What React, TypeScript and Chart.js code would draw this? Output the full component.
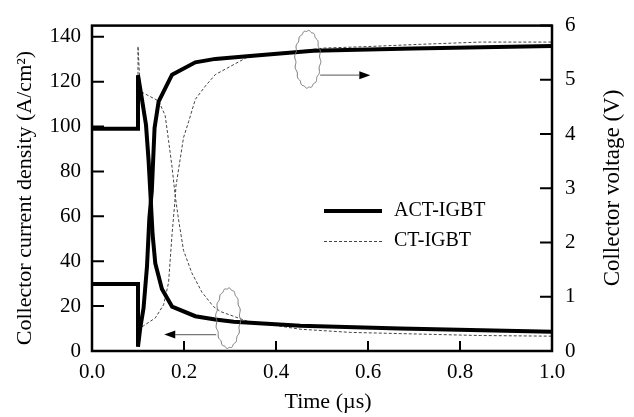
import React, { useEffect, useRef } from 'react';
import { Chart, registerables } from 'chart.js';

Chart.register(...registerables);

const FONT = '"Liberation Serif", "Times New Roman", Times, serif';

// Time axis ticks
const timeTicks = [0, 0.2, 0.4, 0.6, 0.8, 1.0];

// ACT-IGBT collector current density (A/cm2)
const actCurrentT = [0, 0.1, 0.1, 0.1087, 0.1174, 0.123, 0.127, 0.1317, 0.1376, 0.152, 0.174, 0.2246, 0.268, 0.308, 0.453, 0.67, 1.0];
const actCurrent = [99, 99, 122.9, 112, 100.7, 85, 70, 52, 39, 27.6, 19.8, 15.5, 14, 13, 11.2, 10, 8.6];

// ACT-IGBT collector voltage (V)
const actVoltageT = [0, 0.1, 0.1, 0.105, 0.112, 0.1196, 0.1246, 0.13, 0.136, 0.1448, 0.174, 0.2246, 0.268, 0.337, 0.481, 0.698, 1.0];
const actVoltage = [1.235, 1.235, 0.079, 0.431, 0.787, 1.566, 2.44, 2.95, 4.114, 4.599, 5.096, 5.323, 5.386, 5.435, 5.535, 5.576, 5.626];

// CT-IGBT collector current density (A/cm2)
const ctCurrentT = [0, 0.1, 0.1, 0.105, 0.1448, 0.159, 0.1665, 0.174, 0.181, 0.1876, 0.199, 0.217, 0.239, 0.264, 0.279, 0.337, 0.453, 0.5615, 0.699, 0.844, 1.0];
const ctCurrent = [99, 99, 135.8, 115.7, 111.4, 105, 93.7, 82, 69, 59.3, 44.8, 34.8, 26.2, 19.8, 17.6, 13.3, 9.7, 8.3, 7.6, 6.9, 6.6];

// CT-IGBT collector voltage (V)
const ctVoltageT = [0, 0.1, 0.1, 0.112, 0.1376, 0.1557, 0.1665, 0.174, 0.1796, 0.1826, 0.199, 0.21, 0.2246, 0.2463, 0.268, 0.337, 0.503, 0.598, 0.714, 0.844, 1.0];
const ctVoltage = [1.235, 1.235, 0.414, 0.464, 0.609, 0.853, 1.264, 2.154, 2.693, 3.045, 3.936, 4.226, 4.64, 4.884, 5.096, 5.415, 5.585, 5.613, 5.655, 5.696, 5.696];

// Annotation anchors (data coordinates: time, current density)
const upperEllipse = { t: 0.469, y: 130, rt: 0.0272, ry: 12.7 };
const upperArrow = { t0: 0.496, t1: 0.605, y: 122.9 };
const lowerEllipse = { t: 0.296, y: 14.6, rt: 0.026, ry: 13.3 };
const lowerArrow = { t0: 0.27, t1: 0.157, y: 7.3 };

const legendItems = ['ACT-IGBT', 'CT-IGBT'];

const zip = (ts: number[], vs: number[]) => ts.map((t, i) => ({ x: t, y: vs[i] }));

function drawWavyEllipse(ctx: CanvasRenderingContext2D, cx: number, cy: number, rx: number, ry: number) {
  ctx.beginPath();
  const n = 160;
  for (let i = 0; i <= n; i++) {
    const a = (i / n) * Math.PI * 2;
    const w = 1 + 0.05 * Math.sin(a * 16);
    const x = cx + rx * Math.cos(a) * w;
    const y = cy + ry * Math.sin(a) * (1 + 0.02 * Math.sin(a * 16));
    if (i === 0) ctx.moveTo(x, y);
    else ctx.lineTo(x, y);
  }
  ctx.closePath();
  ctx.stroke();
}

function drawArrow(ctx: CanvasRenderingContext2D, x0: number, x1: number, y: number) {
  const dir = x1 > x0 ? 1 : -1;
  const headLen = 11;
  ctx.strokeStyle = '#777';
  ctx.lineWidth = 1.2;
  ctx.beginPath();
  ctx.moveTo(x0, y);
  ctx.lineTo(x1 - dir * headLen, y);
  ctx.stroke();
  ctx.fillStyle = '#000';
  ctx.beginPath();
  ctx.moveTo(x1, y);
  ctx.lineTo(x1 - dir * headLen, y - 4);
  ctx.lineTo(x1 - dir * headLen, y + 4);
  ctx.closePath();
  ctx.fill();
}

const decorPlugin = {
  id: 'decor',
  afterDatasetsDraw(chart: any) {
    const { ctx, chartArea, scales } = chart;
    const { left, right, top, bottom } = chartArea;
    const sx = scales.x, sy = scales.y, sy2 = scales.y2;
    ctx.save();
    // frame
    ctx.strokeStyle = '#000';
    ctx.lineWidth = 2.5;
    ctx.strokeRect(left, top, right - left, bottom - top);
    // inward ticks
    ctx.lineWidth = 2;
    ctx.beginPath();
    sy.ticks.forEach((t: any) => {
      const p = sy.getPixelForValue(t.value);
      ctx.moveTo(left, p);
      ctx.lineTo(left + 12, p);
    });
    sy2.ticks.forEach((t: any) => {
      const p = sy2.getPixelForValue(t.value);
      ctx.moveTo(right, p);
      ctx.lineTo(right - 12, p);
    });
    sx.ticks.forEach((t: any) => {
      const p = sx.getPixelForValue(t.value);
      ctx.moveTo(p, bottom);
      ctx.lineTo(p, bottom - 10);
    });
    ctx.stroke();

    // ellipses and arrows
    ctx.strokeStyle = '#777';
    ctx.lineWidth = 1;
    const e1x = sx.getPixelForValue(upperEllipse.t);
    const e1y = sy.getPixelForValue(upperEllipse.y);
    const e1rx = sx.getPixelForValue(upperEllipse.t + upperEllipse.rt) - e1x;
    const e1ry = sy.getPixelForValue(upperEllipse.y - upperEllipse.ry) - e1y;
    drawWavyEllipse(ctx, e1x, e1y, e1rx, e1ry);
    drawArrow(ctx, sx.getPixelForValue(upperArrow.t0), sx.getPixelForValue(upperArrow.t1), sy.getPixelForValue(upperArrow.y));

    ctx.strokeStyle = '#777';
    ctx.lineWidth = 1;
    const e2x = sx.getPixelForValue(lowerEllipse.t);
    const e2y = sy.getPixelForValue(lowerEllipse.y);
    const e2rx = sx.getPixelForValue(lowerEllipse.t + lowerEllipse.rt) - e2x;
    const e2ry = sy.getPixelForValue(lowerEllipse.y - lowerEllipse.ry) - e2y;
    drawWavyEllipse(ctx, e2x, e2y, e2rx, e2ry);
    drawArrow(ctx, sx.getPixelForValue(lowerArrow.t0), sx.getPixelForValue(lowerArrow.t1), sy.getPixelForValue(lowerArrow.y));

    // legend
    ctx.fillStyle = '#000';
    ctx.font = `20px ${FONT}`;
    ctx.textAlign = 'left';
    ctx.textBaseline = 'middle';
    ctx.strokeStyle = '#000';
    ctx.lineWidth = 4;
    ctx.beginPath();
    ctx.moveTo(324, 211);
    ctx.lineTo(382, 211);
    ctx.stroke();
    ctx.fillText(legendItems[0], 394, 211);
    ctx.strokeStyle = '#444';
    ctx.lineWidth = 1;
    ctx.setLineDash([3, 2]);
    ctx.beginPath();
    ctx.moveTo(324, 241.5);
    ctx.lineTo(382, 241.5);
    ctx.stroke();
    ctx.setLineDash([]);
    ctx.fillText(legendItems[1], 394, 241);

    // axis titles
    ctx.textAlign = 'center';
    ctx.textBaseline = 'middle';
    ctx.font = `22px ${FONT}`;
    ctx.save();
    ctx.translate(25, 198);
    ctx.rotate(-Math.PI / 2);
    ctx.fillText('Collector current density (A/cm\u00B2)', 0, 0);
    ctx.restore();
    ctx.save();
    ctx.font = `23px ${FONT}`;
    ctx.translate(613, 188);
    ctx.rotate(-Math.PI / 2);
    ctx.fillText('Collector voltage (V)', 0, 0);
    ctx.restore();
    ctx.fillText('Time (\u00B5s)', 328, 402);
    ctx.restore();
  },
};

export default function App() {
  const ref = useRef<HTMLCanvasElement>(null);
  useEffect(() => {
    document.body.style.margin = '0';
    const canvas = ref.current!;
    const tickFont = { family: FONT, size: 21 };
    const chart = new Chart(canvas, {
      type: 'line',
      data: {
        datasets: [
          { label: 'ACT-IGBT current', data: zip(actCurrentT, actCurrent), yAxisID: 'y', borderColor: '#000', borderWidth: 4, pointRadius: 0, tension: 0, fill: false },
          { label: 'ACT-IGBT voltage', data: zip(actVoltageT, actVoltage), yAxisID: 'y2', borderColor: '#000', borderWidth: 4, pointRadius: 0, tension: 0, fill: false },
          { label: 'CT-IGBT current', data: zip(ctCurrentT, ctCurrent), yAxisID: 'y', borderColor: '#444', borderWidth: 1, borderDash: [3, 2], pointRadius: 0, tension: 0, fill: false },
          { label: 'CT-IGBT voltage', data: zip(ctVoltageT, ctVoltage), yAxisID: 'y2', borderColor: '#444', borderWidth: 1, borderDash: [3, 2], pointRadius: 0, tension: 0, fill: false },
        ],
      },
      options: {
        responsive: false,
        animation: false,
        layout: { padding: { top: 13, left: 0, right: 0, bottom: 0 } },
        plugins: { legend: { display: false }, tooltip: { enabled: false } },
        scales: {
          x: {
            type: 'linear',
            position: 'bottom',
            min: 0,
            max: 1,
            grid: { display: false, drawTicks: false },
            border: { display: false },
            afterBuildTicks: (s: any) => { s.ticks = timeTicks.map((v) => ({ value: v })); },
            ticks: { padding: 9, color: '#000', font: tickFont, maxRotation: 0, autoSkip: false, callback: (v: any) => Number(v).toFixed(1) },
            afterFit: (s: any) => { s.height = 66; },
          },
          y: {
            type: 'linear',
            position: 'left',
            min: 0,
            max: 145,
            grid: { display: false, drawTicks: false },
            border: { display: false },
            ticks: { stepSize: 20, includeBounds: false, padding: 11, color: '#000', font: tickFont },
            afterFit: (s: any) => { s.width = 92; },
          },
          y2: {
            type: 'linear',
            position: 'right',
            min: 0,
            max: 6,
            grid: { display: false, drawTicks: false },
            border: { display: false },
            ticks: { stepSize: 1, padding: 13, color: '#000', font: tickFont },
            afterFit: (s: any) => { s.width = 82; },
          },
        },
      },
      plugins: [decorPlugin],
    });
    return () => chart.destroy();
  }, []);
  return (
    <div style={{ width: 634, height: 417 }}>
      <canvas ref={ref} width={634} height={417} style={{ display: 'block' }} />
    </div>
  );
}
